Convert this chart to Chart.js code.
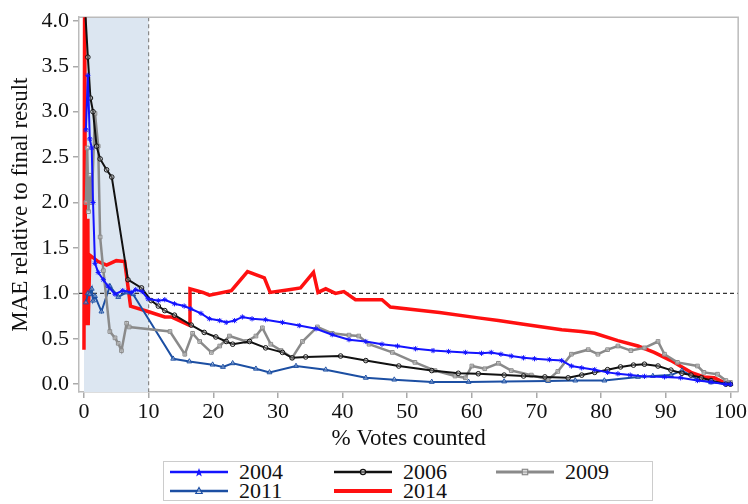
<!DOCTYPE html>
<html>
<head>
<meta charset="utf-8">
<script src="https://cdn.jsdelivr.net/npm/chart.js@4.4.1/dist/chart.umd.min.js"></script>
<style>
  body { margin: 0; background: #fff; }
  #wrap { position: relative; width: 748px; height: 504px; font-family: "Liberation Serif", serif; }
  #box { position: absolute; left: 0; top: 0; width: 748px; height: 455px; }
  #legend { position: absolute; left: 163px; top: 461px; width: 490px; height: 40px; border: 1px solid #ccc; box-sizing: border-box; }
  .item { position: absolute; font-size: 22px; line-height: 20px; color: #111; }
  .item svg { position: absolute; left: 0; top: 2px; }
  .item span { position: absolute; left: 69px; top: 0; }
</style>
</head>
<body>
<div id="wrap">
  <div id="box"><canvas id="c"></canvas></div>
  <div id="legend"></div>
</div>
<script>
// -------- DATA --------
const xTicks = [0, 10, 20, 30, 40, 50, 60, 70, 80, 90, 100];
const yTicks = [0, 0.5, 1, 1.5, 2, 2.5, 3, 3.5, 4];

const x2004 = [0.3, 0.6, 0.9, 1.2, 1.4, 1.7, 2.2, 3.0, 3.7, 4.8, 6.0, 7.3, 8.0, 9.0, 9.9, 11.5, 12.5, 14.0, 15.5, 16.5, 18.1, 19.4, 21.0, 22.0, 23.3, 24.5, 26.0, 28.1, 30.7, 33.3, 35.9, 38.4, 41.0, 43.6, 46.1, 48.5, 51.3, 54.0, 56.4, 59.0, 61.5, 63.0, 64.5, 66.1, 68.0, 69.7, 72.0, 73.9, 75.4, 77.0, 79.0, 81.0, 82.6, 84.5, 86.7, 89.8, 92.3, 94.9, 97.0, 99.2, 100];
const y2004 = [2.8, 3.4, 2.7, 2.6, 2.0, 1.33, 1.23, 1.15, 1.08, 0.99, 1.03, 1.01, 1.04, 1.02, 0.94, 0.92, 0.93, 0.885, 0.86, 0.83, 0.78, 0.72, 0.70, 0.68, 0.70, 0.74, 0.72, 0.71, 0.68, 0.645, 0.61, 0.545, 0.49, 0.47, 0.44, 0.42, 0.39, 0.37, 0.36, 0.35, 0.34, 0.35, 0.33, 0.31, 0.29, 0.28, 0.27, 0.26, 0.20, 0.18, 0.16, 0.13, 0.115, 0.10, 0.086, 0.08, 0.07, 0.04, 0.025, 0.0, 0.0];

const x2006 = [0.2, 0.6, 1.0, 1.4, 1.95, 2.5, 3.5, 4.3, 6.8, 8.9, 10.4, 11.5, 12.5, 14.0, 16.6, 18.6, 20.4, 22.0, 23.0, 25.6, 28.1, 30.7, 32.2, 34.3, 39.7, 43.6, 48.7, 53.8, 57.9, 61.0, 65.0, 68.0, 71.3, 74.9, 77.0, 79.0, 81.0, 83.0, 85.0, 86.7, 88.8, 90.8, 92.5, 93.9, 95.5, 97.0, 99.3, 100];
const y2006 = [4.1, 3.6, 3.15, 3.0, 2.62, 2.48, 2.36, 2.28, 1.15, 1.06, 0.92, 0.86, 0.81, 0.76, 0.65, 0.57, 0.52, 0.47, 0.44, 0.47, 0.40, 0.35, 0.29, 0.30, 0.31, 0.26, 0.20, 0.15, 0.12, 0.115, 0.10, 0.09, 0.08, 0.07, 0.10, 0.13, 0.16, 0.19, 0.21, 0.22, 0.20, 0.155, 0.12, 0.10, 0.07, 0.04, 0.0, 0.0];

const x2009 = [0.3, 0.5, 0.7, 0.9, 1.2, 1.7, 2.2, 2.5, 3.0, 4.0, 4.8, 5.3, 5.8, 6.6, 7.0, 13.3, 15.6, 16.8, 17.9, 19.7, 21.0, 22.5, 25.1, 26.6, 27.6, 28.9, 30.5, 32.2, 33.8, 36.1, 38.4, 41.0, 42.5, 44.1, 47.7, 51.2, 54.3, 57.4, 59.0, 60.0, 62.0, 64.1, 66.1, 69.2, 71.8, 73.3, 75.4, 78.0, 79.5, 81.0, 82.6, 84.6, 86.7, 88.8, 89.8, 91.8, 94.9, 95.9, 98.0, 99.3, 100];
const y2009 = [2.0, 2.6, 1.9, 2.3, 2.0, 2.98, 2.62, 1.62, 1.25, 0.58, 0.51, 0.45, 0.37, 0.67, 0.63, 0.58, 0.33, 0.56, 0.47, 0.35, 0.42, 0.53, 0.47, 0.53, 0.62, 0.44, 0.37, 0.29, 0.47, 0.63, 0.56, 0.54, 0.53, 0.44, 0.35, 0.24, 0.15, 0.09, 0.07, 0.20, 0.17, 0.23, 0.15, 0.10, 0.05, 0.14, 0.33, 0.38, 0.33, 0.38, 0.42, 0.37, 0.40, 0.47, 0.33, 0.24, 0.20, 0.13, 0.11, 0.04, 0.02];

const x2011 = [0.3, 0.6, 0.9, 1.2, 1.4, 1.7, 2.7, 4.0, 5.3, 6.6, 7.6, 13.8, 16.3, 19.9, 21.5, 23.0, 26.6, 28.7, 32.8, 37.4, 43.6, 48.0, 53.8, 59.5, 65.0, 71.8, 76.0, 80.5, 85.7, 88.0, 90.8, 92.5, 95.0, 97.0, 100];
const y2011 = [0.9, 1.0, 0.99, 1.05, 0.92, 0.97, 0.80, 1.08, 0.96, 1.01, 0.99, 0.28, 0.25, 0.215, 0.19, 0.23, 0.17, 0.13, 0.20, 0.16, 0.07, 0.05, 0.025, 0.025, 0.03, 0.035, 0.04, 0.04, 0.08, 0.09, 0.10, 0.15, 0.05, 0.02, 0.0];

const x2014 = [0.0, 0.1, 0.25, 0.6, 0.65, 0.9, 2.2, 3.5, 5.0, 6.3, 7.2, 9.9, 12.5, 13.5, 16.3, 16.4, 18.4, 19.4, 22.8, 25.3, 27.9, 28.8, 31.7, 33.5, 35.5, 36.2, 37.4, 38.9, 40.2, 42.0, 46.1, 47.4, 55.0, 61.0, 64.1, 68.0, 73.9, 76.9, 79.0, 82.6, 85.7, 88.2, 90.8, 93.9, 95.9, 97.5, 99.3, 100];
const y2014 = [0.38, 4.3, 0.65, 1.82, 0.65, 1.42, 1.35, 1.31, 1.36, 1.35, 0.86, 0.80, 0.74, 0.74, 0.65, 1.05, 1.01, 0.98, 1.03, 1.24, 1.17, 1.01, 1.04, 1.06, 1.23, 1.01, 1.05, 1.0, 1.02, 0.93, 0.93, 0.85, 0.79, 0.73, 0.70, 0.66, 0.60, 0.58, 0.56, 0.48, 0.42, 0.35, 0.26, 0.13, 0.08, 0.07, 0.01, 0.0];

const shadeTo = 10;
const refLine = 1.0;

function pts(xs, ys) {
    return xs.map((x, i) => ({ x: x, y: ys[i] }));
}

const series = [
    { label: "2004", xs: x2004, ys: y2004, color: "#1414ff", width: 2, style: "star", r: 2.6 },
    { label: "2006", xs: x2006, ys: y2006, color: "#111111", width: 2, style: "circle", r: 2.3 },
    { label: "2009", xs: x2009, ys: y2009, color: "#8a8a8a", width: 2.5, style: "rect", r: 2.6 },
    { label: "2011", xs: x2011, ys: y2011, color: "#1c4fa3", width: 2, style: "triangle", r: 2.8 },
    { label: "2014", xs: x2014, ys: y2014, color: "#ff1010", width: 3.5, style: "line", r: 0 }
];

// -------- PLOT DECORATIONS --------
const decor = {
    id: "decor",
    beforeDatasetsDraw(chart) {
        const { ctx, chartArea: a, scales: { x, y } } = chart;
        ctx.save();
        ctx.fillStyle = "#dce6f1";
        ctx.fillRect(x.getPixelForValue(0), a.top, x.getPixelForValue(shadeTo) - x.getPixelForValue(0), a.bottom - a.top);
        ctx.setLineDash([4, 3]);
        ctx.lineWidth = 1.2;
        ctx.strokeStyle = "#8a8a8a";
        ctx.beginPath();
        ctx.moveTo(x.getPixelForValue(shadeTo), a.top);
        ctx.lineTo(x.getPixelForValue(shadeTo), a.bottom);
        ctx.stroke();
        ctx.strokeStyle = "#333";
        ctx.beginPath();
        ctx.moveTo(a.left, y.getPixelForValue(refLine));
        ctx.lineTo(a.right, y.getPixelForValue(refLine));
        ctx.stroke();
        ctx.setLineDash([]);
        ctx.strokeStyle = "#bbb";
        ctx.lineWidth = 1.5;
        ctx.beginPath();
        ctx.moveTo(a.left, a.top);
        ctx.lineTo(a.right, a.top);
        ctx.lineTo(a.right, a.bottom);
        ctx.stroke();
        ctx.restore();
    }
};

const tickFont = { family: "Liberation Serif", size: 22 };
const titleFont = { family: "Liberation Serif", size: 23 };

new Chart(document.getElementById("c"), {
    type: "line",
    data: {
        datasets: series.map(s => ({
            label: s.label,
            data: pts(s.xs, s.ys),
            borderColor: s.color,
            backgroundColor: s.color,
            borderWidth: s.width,
            pointStyle: s.r ? s.style : false,
            pointRadius: s.r,
            pointBorderWidth: 1,
            pointBackgroundColor: "rgba(255,255,255,0.3)",
            pointBorderColor: s.color,
            tension: 0
        }))
    },
    options: {
        animation: false,
        responsive: true,
        maintainAspectRatio: false,
        layout: { padding: { top: 8, right: 7, left: 0, bottom: 0 } },
        plugins: { legend: { display: false }, tooltip: { enabled: false } },
        scales: {
            x: {
                type: "linear",
                min: -0.77,
                max: 101.2,
                afterBuildTicks: s => { s.ticks = xTicks.map(v => ({ value: v })); },
                afterFit: s => { s.height = 63; },
                ticks: { font: tickFont, color: "#111", padding: 1, maxRotation: 0 },
                grid: { drawOnChartArea: false, tickLength: 6, color: "#aaa", lineWidth: 1.5 },
                border: { color: "#bbb", width: 1.5 },
                title: { display: true, text: "% Votes counted", font: titleFont, color: "#111", padding: { top: 0, bottom: 2 } }
            },
            y: {
                min: -0.086,
                max: 4.04,
                afterBuildTicks: s => { s.ticks = yTicks.map(v => ({ value: v })); },
                afterFit: s => { s.width = 79; },
                ticks: { font: tickFont, color: "#111", padding: 4, callback: v => v.toFixed(1) },
                grid: { drawOnChartArea: false, tickLength: 6, color: "#aaa", lineWidth: 1.5 },
                border: { color: "#bbb", width: 1.5 },
                title: { display: true, text: "MAE relative to final result", font: titleFont, color: "#111", padding: { top: 7, bottom: 2 } }
            }
        }
    },
    plugins: [decor]
});

// -------- LEGEND --------
const legendPos = [[6, 0], [170, 0], [332, 0], [6, 19], [170, 19]];
const marks = {
    star: c => `<polygon points="29,4 30.2,7.3 33.5,7.3 30.8,9.3 31.8,12.5 29,10.5 26.2,12.5 27.2,9.3 24.5,7.3 27.8,7.3" fill="${c}"/>`,
    circle: c => `<circle cx="29" cy="8" r="2.6" fill="#fff" fill-opacity="0.4" stroke="${c}" stroke-width="1.2"/>`,
    rect: c => `<rect x="26.3" y="5.3" width="5.4" height="5.4" fill="#fff" fill-opacity="0.4" stroke="${c}" stroke-width="1.2"/>`,
    triangle: c => `<polygon points="29,4.5 32.2,10.5 25.8,10.5" fill="#fff" fill-opacity="0.4" stroke="${c}" stroke-width="1.2"/>`,
    line: c => ""
};
const legend = document.getElementById("legend");
series.forEach((s, i) => {
    const d = document.createElement("div");
    d.className = "item";
    d.style.left = legendPos[i][0] + "px";
    d.style.top = legendPos[i][1] + "px";
    d.innerHTML = `<svg width="60" height="16"><line x1="0" y1="8" x2="58" y2="8" stroke="${s.color}" stroke-width="${s.width + 0.5}"/>${marks[s.style](s.color)}</svg><span>${s.label}</span>`;
    legend.appendChild(d);
});
</script>
</body>
</html>
